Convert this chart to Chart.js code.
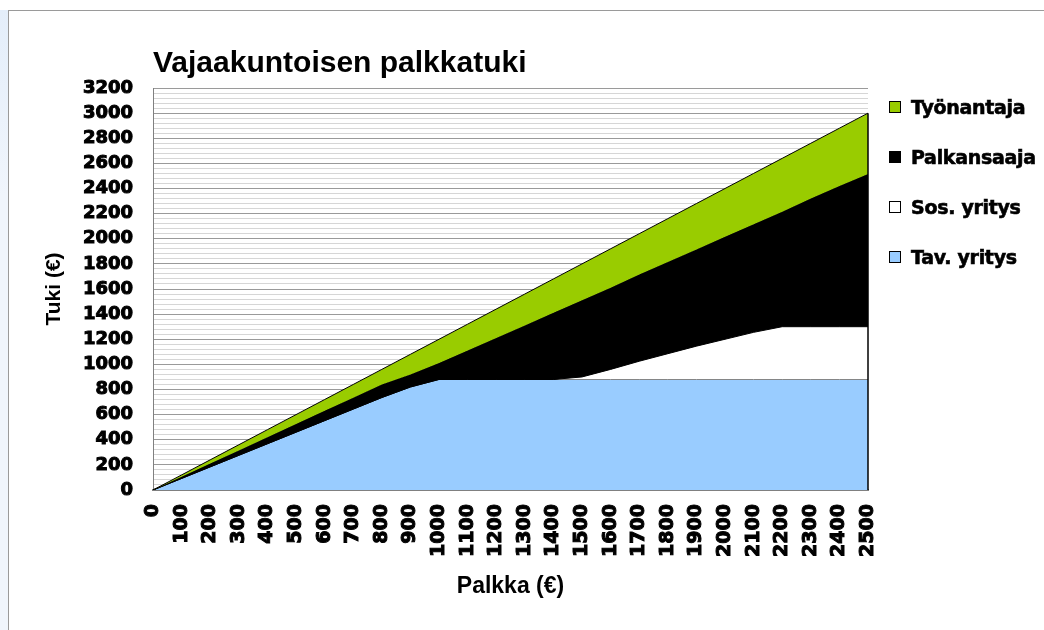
<!DOCTYPE html>
<html lang="fi">
<head>
<meta charset="utf-8">
<title>Vajaakuntoisen palkkatuki</title>
<script src="https://cdn.jsdelivr.net/npm/chart.js@4"></script>
<style>
    html, body {
        margin: 0;
        padding: 0;
        width: 1044px;
        height: 630px;
        overflow: hidden;
        background: #ffffff;
    }
    .side-strip {
        position: absolute;
        left: 0;
        top: 10px;
        width: 8px;
        height: 620px;
        background: linear-gradient(#e4eefa, #f0f5fc 30%, #f0f5fc);
    }
    .frame {
        position: absolute;
        left: 8px;
        top: 10px;
        width: 1036px;
        height: 620px;
        border-left: 1px solid #9a9a9a;
        border-top: 1px solid #9a9a9a;
        background: #ffffff;
    }
    #chart {
        position: absolute;
        left: 0;
        top: 0;
    }
    .legend-item {
        position: absolute;
        left: 880px;
        height: 20px;
        line-height: 20px;
        white-space: nowrap;
        font-family: "DejaVu Sans", sans-serif;
        font-weight: bold;
        font-size: 19px;
        letter-spacing: -0.3px;
        -webkit-text-stroke: 0.6px #000;
        color: #000;
    }
    .legend-box {
        display: inline-block;
        width: 10px;
        height: 10px;
        border: 1px solid #000;
        margin-right: 10px;
        vertical-align: 1px;
    }
</style>
</head>
<body>
<div class="side-strip"></div>
<div class="frame">
    <canvas id="chart" width="1035" height="619"></canvas>
    <div id="legend"></div>
</div>
<script>
// 데이터: palkka (€) 0 ... 2500
const palkka = ['0', '100', '200', '300', '400', '500', '600', '700', '800', '900',
    '1000', '1100', '1200', '1300', '1400', '1500', '1600', '1700', '1800', '1900',
    '2000', '2100', '2200', '2300', '2400', '2500'];

// alueiden yläreunat (kertyvät arvot)
const tyonantaja = [0, 120, 240, 360, 480, 600, 720, 840, 960, 1080,
    1200, 1320, 1440, 1560, 1680, 1800, 1920, 2040, 2160, 2280,
    2400, 2520, 2640, 2760, 2880, 3000];
const palkansaaja = [0, 105, 210, 315, 420, 525, 630, 735, 840, 920,
    1010, 1110, 1210, 1310, 1410, 1510, 1610, 1715, 1815, 1915,
    2015, 2115, 2215, 2320, 2420, 2515];
const sosYritys = [0, 92, 184, 276, 368, 460, 552, 644, 736, 820,
    880, 880, 880, 880, 880, 900, 960, 1025, 1085, 1145,
    1200, 1255, 1300, 1300, 1300, 1300];
const tavYritys = [0, 92, 184, 276, 368, 460, 552, 644, 736, 820,
    880, 880, 880, 880, 880, 880, 880, 880, 880, 880,
    880, 880, 880, 880, 880, 880];

const yMax = 3200;
const yStep = 40;
const yLabelStep = 200;

const seriesNames = ['Työnantaja', 'Palkansaaja', 'Sos. yritys', 'Tav. yritys'];
const seriesColors = ['#99cc00', '#000000', '#ffffff', '#99ccff'];

Chart.defaults.font.family = '"DejaVu Sans", sans-serif';
Chart.defaults.color = '#000';

// oikean reunan pystyviiva
const rightEdge = {
    id: 'rightEdge',
    afterDatasetsDraw(chart) {
        const {ctx, scales} = chart;
        const last = palkka.length - 1;
        const x = scales.x.getPixelForValue(last);
        ctx.save();
        ctx.strokeStyle = '#000';
        ctx.lineWidth = 1.5;
        ctx.beginPath();
        ctx.moveTo(x, scales.y.getPixelForValue(tyonantaja[last]));
        ctx.lineTo(x, scales.y.getPixelForValue(0));
        ctx.stroke();
        ctx.restore();
    }
};

const seriesData = [tyonantaja, palkansaaja, sosYritys, tavYritys];
const fills = ['+1', '+1', '+1', 'origin'];

const chart = new Chart(document.getElementById('chart'), {
    type: 'line',
    data: {
        labels: palkka,
        datasets: seriesData.map((d, i) => ({
            label: seriesNames[i],
            data: d,
            backgroundColor: seriesColors[i],
            borderColor: '#000',
            borderWidth: 1,
            pointRadius: 0,
            tension: 0,
            fill: fills[i]
        }))
    },
    options: {
        responsive: false,
        animation: false,
        devicePixelRatio: 1,
        layout: {
            padding: { left: 10, top: 10, right: 176, bottom: 20 }
        },
        plugins: {
            legend: { display: false },
            tooltip: { enabled: false },
            title: {
                display: true,
                text: 'Vajaakuntoisen palkkatuki',
                align: 'start',
                fullSize: false,
                color: '#000',
                font: { family: '"Liberation Sans", Arial, sans-serif', size: 30, weight: 'bold' },
                padding: { top: 24.5, bottom: 6.5 }
            }
        },
        scales: {
            x: {
                offset: false,
                afterFit: s => { s.height = 120; },
                grid: { display: false, drawTicks: false },
                border: { display: true, color: '#808080', width: 2 },
                ticks: {
                    autoSkip: false,
                    minRotation: 90,
                    maxRotation: 90,
                    padding: 14,
                    color: '#000',
                    textStrokeColor: '#000',
                    textStrokeWidth: 1,
                    font: { size: 19, weight: 'bold' }
                },
                title: {
                    display: true,
                    text: 'Palkka (€)',
                    color: '#000',
                    font: { family: '"Liberation Sans", Arial, sans-serif', size: 23, weight: 'bold' },
                    padding: { top: 0, bottom: 10 }
                }
            },
            y: {
                min: 0,
                max: yMax,
                afterFit: s => { s.width = 134; },
                grid: {
                    drawTicks: false,
                    color: c => (c.tick && c.tick.value % yLabelStep === 0) ? '#9a9a9a' : '#d6d6d6'
                },
                border: { display: true, color: '#808080', width: 1 },
                ticks: {
                    stepSize: yStep,
                    maxTicksLimit: 200,
                    autoSkip: false,
                    padding: 20,
                    color: '#000',
                    textStrokeColor: '#000',
                    textStrokeWidth: 1,
                    font: { size: 18, weight: 'bold' },
                    callback: v => (v % yLabelStep === 0 ? v : '')
                },
                title: {
                    display: true,
                    text: 'Tuki (€)',
                    color: '#000',
                    font: { family: '"Liberation Sans", Arial, sans-serif', size: 21, weight: 'bold' },
                    padding: { top: 23, bottom: 0 }
                }
            }
        }
    },
    plugins: [rightEdge]
});

// selite
const legend = document.getElementById('legend');
legend.innerHTML = chart.data.datasets.map((ds, i) => `
    <div class="legend-item" style="top:${86 + i * 50}px">
        <span class="legend-box" style="background:${ds.backgroundColor}"></span>${ds.label}
    </div>
`).join('');
</script>
</body>
</html>
